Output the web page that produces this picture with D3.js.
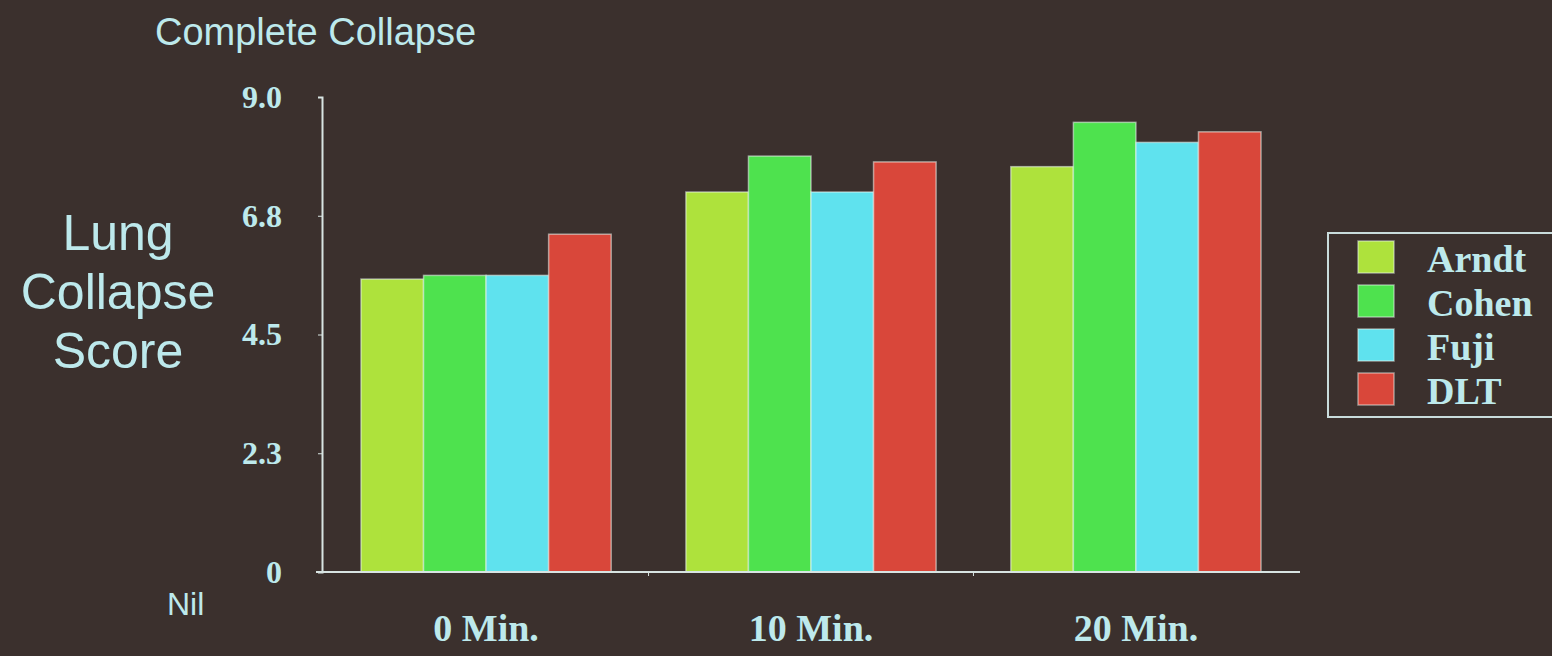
<!DOCTYPE html>
<html>
<head>
<meta charset="utf-8">
<script src="https://cdn.jsdelivr.net/npm/d3@7"></script>
<style>
  html, body { margin: 0; padding: 0; background: #3b302d; }
  svg { display: block; }
</style>
</head>
<body>
<div id="chart"></div>
<script>
var groups = ["0 Min.", "10 Min.", "20 Min."];
var series = ["Arndt", "Cohen", "Fuji", "DLT"];
var colors = ["#aee23c", "#4ee24e", "#5fe2ee", "#d9473a"];
// scores per series, one value per group
var arndt = [5.55, 7.2, 7.68];
var cohen = [5.62, 7.88, 8.52];
var fuji = [5.62, 7.2, 8.14];
var dlt = [6.4, 7.77, 8.34];
var yTicks = [0, 2.25, 4.5, 6.75, 9];
var yTickLabels = ["0", "2.3", "4.5", "6.8", "9.0"];

var width = 1552, height = 656;
var textColor = "#bde9ec";
var sans = "'Liberation Sans', Arial, sans-serif";
var serif = "'Liberation Serif', 'Times New Roman', serif";

var svg = d3.select("#chart")
    .append("svg")
    .attr("width", width)
    .attr("height", height);

var values = [arndt, cohen, fuji, dlt];

var x0 = d3.scaleBand()
    .domain(groups)
    .range([322, 1300])
    .paddingInner(0.23)
    .paddingOuter(0.12);

var x1 = d3.scaleBand()
    .domain(series)
    .range([0, x0.bandwidth()]);

var y = d3.scaleLinear()
    .domain([0, 9])
    .range([572, 97]);

var color = d3.scaleOrdinal()
    .domain(series)
    .range(colors);

// bars
var g = svg.selectAll("g.group")
    .data(groups)
    .enter()
    .append("g")
    .attr("class", "group")
    .attr("transform", function (d) { return "translate(" + x0(d) + ",0)"; });

g.selectAll("rect")
    .data(function (d, i) {
        return series.map(function (s, j) { return { s: s, v: values[j][i] }; });
    })
    .enter()
    .append("rect")
    .attr("x", function (d) { return x1(d.s); })
    .attr("width", x1.bandwidth())
    .attr("y", function (d) { return y(d.v); })
    .attr("height", function (d) { return y(0) - y(d.v); })
    .attr("fill", function (d) { return color(d.s); })
    .attr("stroke", "rgba(235,245,240,0.55)")
    .attr("stroke-width", 1.5);

// y axis
var yAxis = d3.axisLeft(y)
    .tickValues(yTicks)
    .tickSize(4)
    .tickFormat(function (d, i) { return yTickLabels[i]; });

var ya = svg.append("g")
    .attr("transform", "translate(322,0)")
    .call(yAxis);
ya.select(".domain").attr("stroke", "#d8e4e2").attr("stroke-width", 2);
ya.selectAll(".tick line").attr("stroke", "#d8e4e2");
ya.selectAll(".tick text")
    .attr("x", -40)
    .attr("fill", textColor)
    .style("font-family", serif)
    .style("font-weight", "bold")
    .style("font-size", "32px");

// x axis
svg.append("line")
    .attr("x1", 316).attr("x2", 1300)
    .attr("y1", y(0)).attr("y2", y(0))
    .attr("stroke", "#d8e4e2")
    .attr("stroke-width", 2);

var bounds = groups.slice(1).map(function (d) {
    return x0(d) - x0.step() * x0.paddingInner() / 2;
});
svg.selectAll("line.sep")
    .data(bounds)
    .enter()
    .append("line")
    .attr("class", "sep")
    .attr("x1", function (d) { return d; })
    .attr("x2", function (d) { return d; })
    .attr("y1", y(0)).attr("y2", y(0) + 4)
    .attr("stroke", "#d8e4e2");

svg.selectAll("text.cat")
    .data(groups)
    .enter()
    .append("text")
    .attr("class", "cat")
    .attr("x", function (d) { return x0(d) + x0.bandwidth() / 2; })
    .attr("y", 641)
    .attr("text-anchor", "middle")
    .attr("fill", textColor)
    .style("font-family", serif)
    .style("font-weight", "bold")
    .style("font-size", "38px")
    .text(function (d) { return d; });

// titles
svg.append("text")
    .attr("x", 155).attr("y", 45)
    .attr("fill", textColor)
    .style("font-family", sans)
    .style("font-size", "38px")
    .text("Complete Collapse");

svg.append("text")
    .attr("x", 167).attr("y", 615)
    .attr("fill", textColor)
    .style("font-family", sans)
    .style("font-size", "32px")
    .text("Nil");

svg.append("text")
    .attr("x", 118).attr("y", 250)
    .attr("text-anchor", "middle")
    .attr("fill", textColor)
    .style("font-family", sans)
    .style("font-size", "50px")
    .selectAll("tspan")
    .data(["Lung", "Collapse", "Score"])
    .enter()
    .append("tspan")
    .attr("x", 118)
    .attr("dy", function (d, i) { return i == 0 ? 0 : 59; })
    .text(function (d) { return d; });

// legend
var legend = svg.append("g").attr("transform", "translate(1328,233)");
legend.append("rect")
    .attr("width", 240).attr("height", 184)
    .attr("fill", "none")
    .attr("stroke", "#c9dcdc")
    .attr("stroke-width", 2);

var item = legend.selectAll("g.item")
    .data(series)
    .enter()
    .append("g")
    .attr("class", "item")
    .attr("transform", function (d, i) { return "translate(30," + (8 + i * 44) + ")"; });

item.append("rect")
    .attr("width", 36).attr("height", 32)
    .attr("fill", function (d) { return color(d); })
    .attr("stroke", "rgba(235,245,240,0.5)")
    .attr("stroke-width", 1.5);

item.append("text")
    .attr("x", 69).attr("y", 31)
    .attr("fill", textColor)
    .style("font-family", serif)
    .style("font-weight", "bold")
    .style("font-size", "38px")
    .text(function (d) { return d; });
</script>
</body>
</html>
